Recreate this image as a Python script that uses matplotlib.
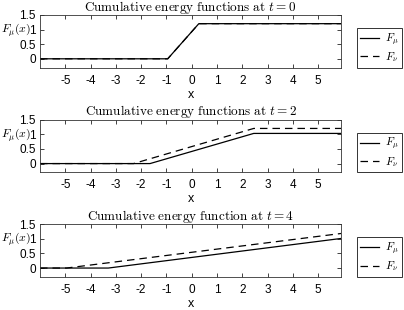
import matplotlib.pyplot as plt

# breakpoints of the piecewise-linear cumulative functions, one panel per time
x_t0 = [-6, -0.95, 0.28, 6]
mu_t0 = [0, 0, 1.2, 1.2]
nu_t0 = [0, 0, 1.2, 1.2]

x_mu_t2 = [-6, -1.65, 2.45, 6]
mu_t2 = [0, 0, 1.03, 1.03]
x_nu_t2 = [-6, -2.3, 2.45, 6]
nu_t2 = [0, 0, 1.2, 1.2]

x_mu_t4 = [-6, -3.3, 5.9]
mu_t4 = [0, 0, 1.01]
x_nu_t4 = [-6, -4.95, 5.9]
nu_t4 = [0, 0, 1.18]

titulos = [r"$\mathrm{Cumulative\ energy\ functions\ at\ }t=0$",
           r"$\mathrm{Cumulative\ energy\ functions\ at\ }t=2$",
           r"$\mathrm{Cumulative\ energy\ function\ at\ }t=4$"]
xticks = [-5, -4, -3, -2, -1, 0, 1, 2, 3, 4, 5]
yticks = [0, 0.5, 1, 1.5]
yticklabels = ["0", "0.5", "1", "1.5"]

plt.rcParams['font.family'] = ['Liberation Sans', 'DejaVu Sans']
plt.rcParams['mathtext.fontset'] = 'cm'

fig = plt.figure(figsize=(4.04, 3.10), dpi=100)
bottoms = [0.782, 0.444, 0.107]
paneles = [((x_t0, mu_t0), (x_t0, nu_t0)),
           ((x_mu_t2, mu_t2), (x_nu_t2, nu_t2)),
           ((x_mu_t4, mu_t4), (x_nu_t4, nu_t4))]

for b, titulo, (mu, nu) in zip(bottoms, titulos, paneles):
    ax = fig.add_axes([0.099, b, 0.745, 0.170])
    ax.plot(mu[0], mu[1], color='black', linewidth=0.9, label=r'$F_\mu$')
    ax.plot(nu[0], nu[1], color='black', linewidth=0.9, linestyle=(0, (6, 4)),
            label=r'$F_\nu$')
    ax.set_xlim(-6, 5.9)
    ax.set_ylim(-0.3, 1.5)
    ax.set_xticks(xticks)
    ax.set_xticklabels([str(v) for v in xticks])
    ax.set_yticks(yticks)
    ax.set_yticklabels(yticklabels)
    ax.tick_params(direction='in', length=3, width=0.6, top=True, right=True,
                   labelsize=8.5, colors='#222222', labelcolor='black')
    ax.tick_params(axis='x', pad=5)
    ax.tick_params(axis='y', pad=3)
    for s in ax.spines.values():
        s.set_linewidth(0.6)
        s.set_color('#333333')
    ax.set_title(titulo, fontsize=9.5, pad=3)
    ax.set_xlabel('x', fontsize=9, labelpad=1.5)
    ax.set_ylabel(r'$F_\mu(x)$', fontsize=8.5, rotation=0, ha='center', va='center')
    ax.yaxis.set_label_coords(-0.078, 0.70)
    leg = ax.legend(loc='lower left', bbox_to_anchor=(1.053, 0.0), borderaxespad=0,
                    fontsize=8, handlelength=1.7, handletextpad=0.5,
                    borderpad=0.3, labelspacing=0.25, fancybox=False, framealpha=1)
    leg.get_frame().set_edgecolor('#333333')
    leg.get_frame().set_linewidth(0.7)

fig.savefig('out.png', dpi=100)
